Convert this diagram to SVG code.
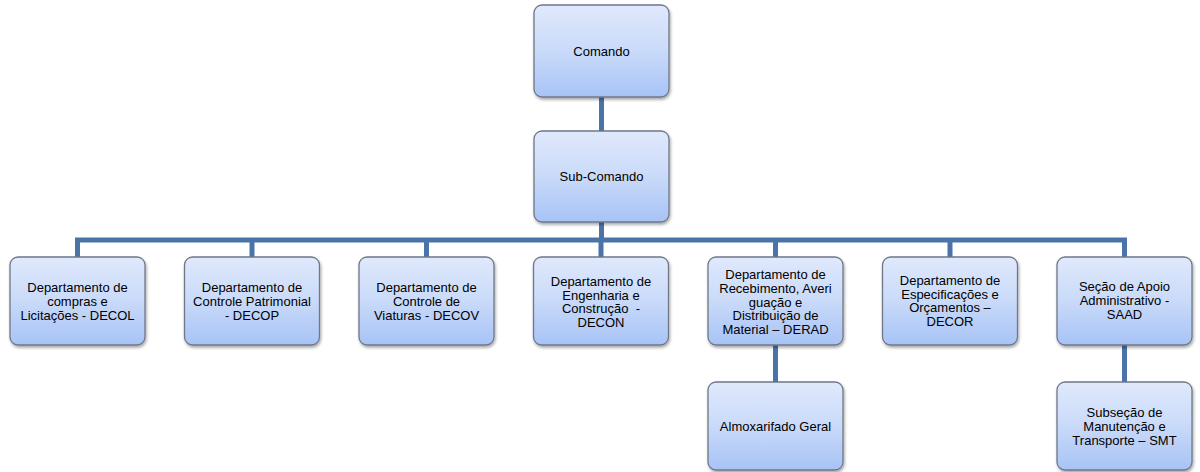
<svg xmlns="http://www.w3.org/2000/svg" width="1200" height="472" viewBox="0 0 1200 472">
<defs>
<linearGradient id="g" x1="0" y1="0" x2="0" y2="1">
<stop offset="0" stop-color="#e0e9fc"/>
<stop offset="0.5" stop-color="#c9daf9"/>
<stop offset="1" stop-color="#a7c3f6"/>
</linearGradient>
<filter id="sh" x="-10%" y="-10%" width="125%" height="130%">
<feDropShadow dx="1" dy="2" stdDeviation="1.5" flood-color="#000" flood-opacity="0.35"/>
</filter>
</defs>
<style>
.box{fill:url(#g);stroke:#6e7888;stroke-width:1.3;filter:url(#sh)}
.t{font-family:"Liberation Sans",Arial,sans-serif;font-size:13px;fill:#000;text-anchor:middle}
.c{fill:none;stroke:#4a74a8;stroke-width:5;stroke-linejoin:miter}
</style>
<rect width="1200" height="472" fill="#fff"/>
<g id="connectors">
<path class="c" d="M601.5 97V131"/>
<path class="c" d="M601.5 222V240"/>
<path class="c" d="M77.5 257V240H1124.5V257"/>
<path class="c" d="M252 240V257M426.5 240V257M601 240V257M775.5 240V257M950 240V257"/>
<path class="c" d="M775.5 345V382"/>
<path class="c" d="M1124.5 345V382"/>
</g>
<g id="comando">
<rect class="box" x="534" y="5" width="135" height="92" rx="8"/>
<text class="t" x="601.5" y="55.5">Comando</text>
</g>
<g id="subcomando">
<rect class="box" x="534" y="131" width="135" height="91" rx="8"/>
<text class="t" x="601.5" y="181">Sub-Comando</text>
</g>
<g id="decol">
<rect class="box" x="10" y="257" width="135" height="88" rx="8"/>
<text class="t" x="77.5" y="292.4">Departamento de</text>
<text class="t" x="77.5" y="306">compras e</text>
<text class="t" x="77.5" y="319.6">Licitações - DECOL</text>
</g>
<g id="decop">
<rect class="box" x="184.5" y="257" width="135" height="88" rx="8"/>
<text class="t" x="252" y="292.4">Departamento de</text>
<text class="t" x="252" y="306">Controle Patrimonial</text>
<text class="t" x="252" y="319.6">- DECOP</text>
</g>
<g id="decov">
<rect class="box" x="359" y="257" width="135" height="88" rx="8"/>
<text class="t" x="426.5" y="292.4">Departamento de</text>
<text class="t" x="426.5" y="306">Controle de</text>
<text class="t" x="426.5" y="319.6">Viaturas - DECOV</text>
</g>
<g id="decon">
<rect class="box" x="533.5" y="257" width="135" height="88" rx="8"/>
<text class="t" x="601" y="286.1">Departamento de</text>
<text class="t" x="601" y="299.7">Engenharia e</text>
<text class="t" x="601" y="313.3">Construção&#160; -</text>
<text class="t" x="601" y="326.9">DECON</text>
</g>
<g id="derad">
<rect class="box" x="708" y="257" width="135" height="88" rx="8"/>
<text class="t" x="775.5" y="279.3">Departamento de</text>
<text class="t" x="775.5" y="292.9">Recebimento, Averi</text>
<text class="t" x="775.5" y="306.5">guação e</text>
<text class="t" x="775.5" y="320.1">Distribuição de</text>
<text class="t" x="775.5" y="333.7">Material – DERAD</text>
</g>
<g id="decor">
<rect class="box" x="882.5" y="257" width="135" height="88" rx="8"/>
<text class="t" x="950" y="285">Departamento de</text>
<text class="t" x="950" y="298.6">Especificações e</text>
<text class="t" x="950" y="312.2">Orçamentos –</text>
<text class="t" x="950" y="325.8">DECOR</text>
</g>
<g id="saad">
<rect class="box" x="1057" y="257" width="135" height="88" rx="8"/>
<text class="t" x="1124.5" y="291.4">Seção de Apoio</text>
<text class="t" x="1124.5" y="305">Administrativo -</text>
<text class="t" x="1124.5" y="318.6">SAAD</text>
</g>
<g id="almoxarifado">
<rect class="box" x="708" y="382" width="135" height="88" rx="8"/>
<text class="t" x="775.5" y="431">Almoxarifado Geral</text>
</g>
<g id="smt">
<rect class="box" x="1057" y="382" width="135" height="88" rx="8"/>
<text class="t" x="1124.5" y="417.4">Subseção de</text>
<text class="t" x="1124.5" y="431">Manutenção e</text>
<text class="t" x="1124.5" y="444.6">Transporte – SMT</text>
</g>
</svg>
